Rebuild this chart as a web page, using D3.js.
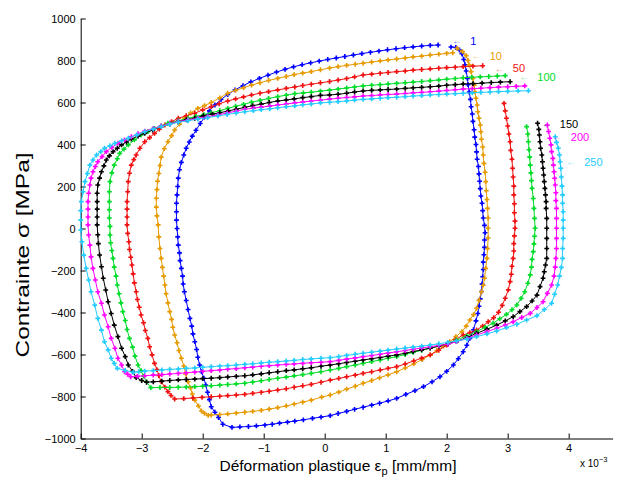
<!DOCTYPE html>
<html><head><meta charset="utf-8">
<script src="https://cdn.jsdelivr.net/npm/d3@7"></script>
<style>body{margin:0;background:#fff}svg text{font-family:"Liberation Sans",Arial,Helvetica,sans-serif}</style>
</head><body><svg id="c" width="620" height="483"></svg>
<script>
// cycle numbers (legend annotations)
const cycles = ["1","10","50","100","150","200","250"];
// plastic strain (x 1e-3) , stress (MPa)
const loop1 = [[2.07,864],[2.15,862],[2.21,850],[2.25,832],[2.28,805],[2.30,780],[2.32,750],[2.34,715],[2.35,685],[2.37,650],[2.39,615],[2.40,580],[2.42,545],[2.43,510],[2.45,470],[2.46,435],[2.48,400],[2.49,365],[2.50,330],[2.52,295],[2.53,260],[2.54,225],[2.55,190],[2.56,155],[2.58,120],[2.59,85],[2.60,50],[2.62,15],[2.63,-20],[2.62,-55],[2.62,-90],[2.61,-125],[2.60,-160],[2.60,-195],[2.59,-230],[2.58,-265],[2.57,-300],[2.55,-335],[2.53,-370],[2.51,-405],[2.48,-440],[2.44,-482],[2.38,-523],[2.33,-556],[2.27,-587],[2.19,-620],[2.11,-650],[2.00,-680],[1.89,-706],[1.76,-730],[1.62,-753],[1.48,-772],[1.33,-790],[1.18,-809],[1.04,-821],[0.90,-832],[0.77,-841],[0.63,-851],[0.49,-861],[0.36,-871],[0.22,-881],[0.09,-891],[-0.06,-898],[-0.20,-904],[-0.35,-911],[-0.49,-917],[-0.61,-922],[-0.74,-927],[-0.86,-932],[-0.98,-936],[-1.12,-940],[-1.25,-943],[-1.39,-945],[-1.52,-947],[-1.67,-932],[-1.74,-900],[-1.80,-875],[-1.86,-849],[-1.89,-815],[-1.92,-780],[-1.95,-745],[-1.98,-713],[-2.02,-682],[-2.05,-650],[-2.08,-613],[-2.10,-576],[-2.13,-539],[-2.16,-502],[-2.18,-465],[-2.21,-428],[-2.24,-386],[-2.27,-343],[-2.30,-301],[-2.32,-264],[-2.33,-227],[-2.35,-190],[-2.37,-153],[-2.38,-116],[-2.40,-79],[-2.41,-40],[-2.42,0],[-2.43,40],[-2.43,80],[-2.43,120],[-2.42,160],[-2.41,200],[-2.40,240],[-2.38,280],[-2.35,315],[-2.31,350],[-2.27,382],[-2.22,412],[-2.17,440],[-2.11,468],[-2.04,500],[-1.97,530],[-1.89,560],[-1.80,588],[-1.70,614],[-1.59,638],[-1.47,660],[-1.34,680],[-1.21,698],[-1.07,715],[-0.93,730],[-0.79,745],[-0.65,758],[-0.51,770],[-0.37,780],[-0.23,789],[-0.09,797],[0.05,805],[0.19,812],[0.33,819],[0.47,826],[0.61,833],[0.75,839],[0.89,845],[1.03,851],[1.17,856],[1.31,861],[1.45,865],[1.59,869],[1.73,872],[1.86,874]];
const loop10 = [[2.17,858],[2.26,842],[2.32,823],[2.35,800],[2.37,779],[2.40,747],[2.43,715],[2.45,683],[2.46,651],[2.48,620],[2.50,588],[2.51,556],[2.53,525],[2.55,493],[2.56,461],[2.57,425],[2.59,388],[2.60,350],[2.61,310],[2.63,268],[2.64,223],[2.65,180],[2.66,138],[2.67,96],[2.68,50],[2.68,1],[2.68,-45],[2.67,-95],[2.66,-142],[2.64,-190],[2.62,-237],[2.60,-270],[2.57,-301],[2.53,-342],[2.49,-380],[2.44,-410],[2.38,-436],[2.32,-465],[2.25,-491],[2.15,-515],[2.05,-539],[1.95,-560],[1.84,-581],[1.73,-602],[1.60,-624],[1.46,-645],[1.32,-664],[1.18,-682],[1.04,-697],[0.90,-711],[0.77,-724],[0.63,-737],[0.50,-751],[0.36,-765],[0.23,-779],[0.09,-793],[-0.05,-803],[-0.22,-817],[-0.36,-827],[-0.50,-836],[-0.63,-845],[-0.77,-853],[-0.91,-860],[-1.04,-866],[-1.18,-871],[-1.31,-875],[-1.45,-879],[-1.59,-883],[-1.72,-886],[-1.86,-888],[-1.91,-890],[-1.97,-880],[-2.02,-869],[-2.07,-845],[-2.13,-817],[-2.17,-788],[-2.20,-759],[-2.24,-730],[-2.28,-693],[-2.31,-655],[-2.35,-618],[-2.39,-581],[-2.42,-544],[-2.46,-507],[-2.49,-470],[-2.51,-433],[-2.54,-396],[-2.57,-354],[-2.60,-311],[-2.62,-269],[-2.64,-227],[-2.66,-185],[-2.68,-142],[-2.70,-95],[-2.72,-40],[-2.73,17],[-2.75,60],[-2.76,102],[-2.76,144],[-2.75,185],[-2.74,225],[-2.72,262],[-2.70,300],[-2.68,340],[-2.63,380],[-2.57,413],[-2.51,442],[-2.46,469],[-2.38,497],[-2.30,525],[-2.20,550],[-2.08,572],[-1.97,585],[-1.86,600],[-1.72,622],[-1.59,644],[-1.46,658],[-1.33,670],[-1.20,683],[-1.06,694],[-0.92,705],[-0.77,715],[-0.63,724],[-0.50,733],[-0.36,740],[-0.22,747],[-0.07,756],[0.08,764],[0.22,771],[0.36,777],[0.50,782],[0.63,787],[0.77,793],[0.91,798],[1.04,803],[1.18,807],[1.32,812],[1.45,817],[1.59,821],[1.73,826],[1.87,830],[2.00,834],[2.10,837]];
const loop50 = [[2.94,596],[2.96,560],[2.98,525],[3.00,488],[3.02,450],[3.04,413],[3.05,372],[3.07,330],[3.08,287],[3.09,245],[3.10,202],[3.10,160],[3.11,118],[3.11,75],[3.12,35],[3.12,1],[3.11,-35],[3.10,-72],[3.10,-107],[3.09,-142],[3.07,-180],[3.06,-218],[3.04,-253],[3.01,-292],[2.96,-332],[2.91,-366],[2.85,-399],[2.77,-425],[2.68,-444],[2.59,-465],[2.49,-483],[2.38,-496],[2.27,-507],[2.14,-530],[2.00,-555],[1.87,-580],[1.73,-602],[1.59,-617],[1.46,-631],[1.32,-645],[1.18,-658],[1.04,-666],[0.91,-674],[0.77,-682],[0.63,-690],[0.50,-698],[0.36,-706],[0.23,-714],[0.09,-722],[-0.06,-732],[-0.22,-742],[-0.36,-749],[-0.50,-756],[-0.63,-763],[-0.77,-769],[-0.91,-775],[-1.04,-780],[-1.18,-785],[-1.31,-790],[-1.45,-793],[-1.59,-796],[-1.72,-799],[-1.86,-801],[-2.01,-804],[-2.16,-807],[-2.31,-810],[-2.46,-812],[-2.52,-795],[-2.57,-777],[-2.62,-755],[-2.68,-730],[-2.72,-700],[-2.75,-672],[-2.79,-642],[-2.83,-602],[-2.87,-563],[-2.90,-523],[-2.94,-486],[-2.97,-449],[-3.01,-412],[-3.04,-375],[-3.07,-338],[-3.09,-301],[-3.12,-259],[-3.14,-216],[-3.16,-174],[-3.18,-137],[-3.20,-100],[-3.21,-63],[-3.23,-23],[-3.24,17],[-3.24,55],[-3.24,92],[-3.24,128],[-3.23,175],[-3.22,223],[-3.20,263],[-3.17,302],[-3.13,328],[-3.09,350],[-3.03,382],[-2.95,413],[-2.87,433],[-2.79,453],[-2.71,473],[-2.62,493],[-2.51,509],[-2.40,525],[-2.27,537],[-2.13,549],[-2.00,565],[-1.86,580],[-1.73,594],[-1.59,607],[-1.46,617],[-1.33,627],[-1.20,636],[-1.06,644],[-0.92,652],[-0.77,660],[-0.63,667],[-0.49,674],[-0.36,681],[-0.22,687],[-0.07,694],[0.08,700],[0.22,707],[0.36,714],[0.49,722],[0.63,731],[0.77,735],[0.91,739],[1.04,743],[1.18,747],[1.32,750],[1.45,754],[1.59,757],[1.73,760],[1.87,763],[2.00,766],[2.14,768],[2.27,771],[2.43,773],[2.59,775]];
const loop100 = [[3.31,485],[3.33,450],[3.34,413],[3.35,375],[3.36,340],[3.37,302],[3.38,265],[3.39,228],[3.40,191],[3.42,143],[3.43,96],[3.44,48],[3.45,1],[3.44,-37],[3.43,-73],[3.42,-110],[3.40,-147],[3.39,-184],[3.37,-221],[3.33,-261],[3.28,-301],[3.22,-333],[3.15,-364],[3.07,-387],[2.98,-409],[2.87,-430],[2.76,-451],[2.63,-471],[2.49,-491],[2.33,-511],[2.16,-531],[2.02,-550],[1.87,-560],[1.73,-570],[1.59,-580],[1.45,-590],[1.32,-600],[1.18,-610],[1.04,-618],[0.91,-626],[0.77,-634],[0.63,-642],[0.50,-650],[0.36,-658],[0.23,-666],[0.09,-674],[-0.06,-682],[-0.22,-690],[-0.36,-696],[-0.50,-702],[-0.63,-708],[-0.77,-713],[-0.91,-719],[-1.04,-725],[-1.18,-731],[-1.31,-737],[-1.45,-740],[-1.59,-743],[-1.72,-746],[-1.86,-749],[-2.00,-751],[-2.13,-753],[-2.27,-755],[-2.40,-756],[-2.54,-757],[-2.70,-757],[-2.85,-758],[-2.92,-730],[-2.97,-703],[-3.01,-677],[-3.06,-650],[-3.11,-608],[-3.15,-565],[-3.20,-523],[-3.24,-481],[-3.27,-438],[-3.31,-396],[-3.34,-354],[-3.37,-311],[-3.40,-269],[-3.42,-227],[-3.45,-184],[-3.47,-142],[-3.49,-105],[-3.51,-68],[-3.52,-31],[-3.52,10],[-3.53,50],[-3.53,89],[-3.53,128],[-3.53,175],[-3.52,223],[-3.49,265],[-3.45,302],[-3.40,332],[-3.36,358],[-3.29,378],[-3.22,398],[-3.12,422],[-3.01,445],[-2.90,461],[-2.79,477],[-2.68,489],[-2.57,501],[-2.40,513],[-2.24,525],[-2.11,534],[-1.98,542],[-1.86,551],[-1.72,561],[-1.59,572],[-1.46,582],[-1.33,591],[-1.20,601],[-1.06,610],[-0.92,619],[-0.77,628],[-0.63,635],[-0.49,642],[-0.35,646],[-0.22,649],[-0.07,654],[0.08,659],[0.22,664],[0.36,669],[0.49,674],[0.63,679],[0.77,682],[0.91,685],[1.04,688],[1.18,691],[1.32,694],[1.45,697],[1.59,700],[1.73,704],[1.87,707],[2.00,711],[2.14,714],[2.27,718],[2.41,720],[2.55,722],[2.69,724],[2.83,726],[2.96,728]];
const loop150 = [[3.49,501],[3.51,472],[3.52,445],[3.53,413],[3.54,382],[3.56,350],[3.57,318],[3.58,287],[3.59,255],[3.60,223],[3.61,191],[3.62,160],[3.63,128],[3.63,96],[3.64,48],[3.64,1],[3.64,-47],[3.64,-95],[3.64,-142],[3.62,-174],[3.60,-206],[3.58,-237],[3.53,-277],[3.48,-317],[3.40,-345],[3.31,-372],[3.20,-396],[3.09,-420],[2.96,-440],[2.82,-460],[2.66,-480],[2.49,-499],[2.33,-519],[2.16,-539],[2.02,-549],[1.87,-560],[1.73,-570],[1.59,-578],[1.45,-586],[1.32,-594],[1.18,-602],[1.04,-608],[0.91,-614],[0.77,-620],[0.63,-626],[0.50,-632],[0.36,-638],[0.23,-644],[0.09,-650],[-0.06,-656],[-0.22,-663],[-0.36,-668],[-0.50,-673],[-0.63,-677],[-0.77,-682],[-0.91,-687],[-1.04,-692],[-1.18,-697],[-1.31,-701],[-1.45,-704],[-1.59,-707],[-1.72,-710],[-1.86,-713],[-2.00,-715],[-2.13,-717],[-2.27,-719],[-2.40,-721],[-2.54,-724],[-2.67,-727],[-2.81,-730],[-2.92,-732],[-3.00,-724],[-3.09,-710],[-3.15,-680],[-3.22,-650],[-3.27,-610],[-3.33,-570],[-3.39,-515],[-3.45,-460],[-3.50,-405],[-3.55,-349],[-3.59,-293],[-3.63,-237],[-3.66,-182],[-3.69,-126],[-3.71,-72],[-3.72,-30],[-3.73,17],[-3.73,55],[-3.73,92],[-3.73,128],[-3.73,168],[-3.72,207],[-3.69,240],[-3.66,270],[-3.62,298],[-3.58,326],[-3.53,346],[-3.47,366],[-3.40,382],[-3.33,398],[-3.25,412],[-3.17,426],[-3.06,440],[-2.95,453],[-2.82,469],[-2.68,485],[-2.54,497],[-2.40,509],[-2.27,517],[-2.13,525],[-1.99,537],[-1.84,545],[-1.72,551],[-1.58,560],[-1.45,568],[-1.31,577],[-1.18,585],[-1.04,592],[-0.91,600],[-0.77,607],[-0.63,612],[-0.50,617],[-0.36,623],[-0.22,628],[-0.07,634],[0.08,636],[0.22,639],[0.36,644],[0.49,650],[0.63,655],[0.77,658],[0.91,660],[1.04,662],[1.18,664],[1.32,667],[1.45,670],[1.59,672],[1.73,675],[1.87,678],[2.00,682],[2.14,685],[2.27,688],[2.43,690],[2.58,692],[2.73,695],[2.88,697],[3.04,699]];
const loop200 = [[3.65,493],[3.67,462],[3.69,430],[3.71,398],[3.72,366],[3.74,334],[3.75,302],[3.76,270],[3.77,239],[3.78,207],[3.79,170],[3.79,133],[3.80,96],[3.80,48],[3.80,1],[3.80,-47],[3.80,-95],[3.79,-142],[3.78,-184],[3.76,-227],[3.72,-269],[3.65,-309],[3.58,-349],[3.48,-376],[3.37,-404],[3.23,-424],[3.09,-444],[2.96,-460],[2.82,-475],[2.66,-491],[2.49,-507],[2.33,-523],[2.16,-539],[2.02,-551],[1.87,-557],[1.73,-563],[1.59,-569],[1.45,-575],[1.32,-581],[1.18,-587],[1.04,-593],[0.91,-599],[0.77,-605],[0.63,-610],[0.50,-616],[0.36,-622],[0.23,-628],[0.09,-634],[-0.06,-637],[-0.22,-639],[-0.36,-642],[-0.50,-645],[-0.63,-647],[-0.77,-650],[-0.91,-653],[-1.04,-656],[-1.18,-660],[-1.31,-663],[-1.45,-667],[-1.59,-670],[-1.72,-674],[-1.86,-677],[-2.00,-680],[-2.13,-684],[-2.27,-687],[-2.40,-690],[-2.54,-693],[-2.67,-696],[-2.81,-698],[-2.95,-701],[-3.07,-704],[-3.18,-706],[-3.23,-694],[-3.28,-682],[-3.33,-650],[-3.39,-618],[-3.44,-570],[-3.50,-523],[-3.55,-468],[-3.61,-412],[-3.66,-356],[-3.72,-301],[-3.76,-245],[-3.80,-190],[-3.83,-135],[-3.85,-79],[-3.87,-31],[-3.88,17],[-3.88,55],[-3.88,92],[-3.88,128],[-3.87,168],[-3.85,207],[-3.83,240],[-3.80,270],[-3.76,295],[-3.72,318],[-3.65,342],[-3.58,366],[-3.49,386],[-3.39,406],[-3.28,422],[-3.17,437],[-3.06,451],[-2.95,464],[-2.81,476],[-2.68,488],[-2.54,499],[-2.40,509],[-2.24,517],[-2.08,525],[-1.92,533],[-1.75,541],[-1.60,550],[-1.45,559],[-1.31,568],[-1.17,573],[-1.04,578],[-0.90,583],[-0.77,588],[-0.63,593],[-0.49,598],[-0.36,602],[-0.22,607],[-0.07,611],[0.08,616],[0.22,620],[0.36,624],[0.49,627],[0.63,631],[0.77,633],[0.91,636],[1.04,638],[1.18,640],[1.32,643],[1.45,646],[1.59,648],[1.73,651],[1.87,654],[2.00,657],[2.14,661],[2.27,664],[2.42,666],[2.56,668],[2.71,671],[2.85,673],[3.00,675],[3.14,677],[3.28,679]];
const loop250 = [[3.78,437],[3.80,410],[3.83,382],[3.85,350],[3.86,318],[3.87,287],[3.88,245],[3.89,202],[3.90,160],[3.90,120],[3.91,80],[3.91,40],[3.91,1],[3.91,-47],[3.90,-95],[3.90,-142],[3.88,-185],[3.85,-227],[3.82,-269],[3.77,-313],[3.72,-356],[3.60,-386],[3.48,-415],[3.31,-436],[3.15,-456],[2.98,-472],[2.82,-488],[2.66,-502],[2.49,-515],[2.33,-526],[2.16,-536],[2.02,-542],[1.87,-549],[1.73,-555],[1.59,-560],[1.45,-565],[1.32,-569],[1.18,-574],[1.04,-579],[0.91,-584],[0.77,-589],[0.63,-594],[0.50,-599],[0.36,-604],[0.23,-610],[0.09,-615],[-0.06,-618],[-0.22,-621],[-0.36,-624],[-0.50,-628],[-0.63,-631],[-0.77,-634],[-0.91,-637],[-1.04,-640],[-1.18,-644],[-1.31,-647],[-1.45,-650],[-1.59,-653],[-1.72,-655],[-1.86,-658],[-2.00,-661],[-2.13,-664],[-2.27,-666],[-2.40,-669],[-2.54,-671],[-2.67,-674],[-2.81,-677],[-2.95,-679],[-3.05,-682],[-3.14,-685],[-3.27,-676],[-3.40,-666],[-3.45,-642],[-3.50,-618],[-3.55,-578],[-3.61,-539],[-3.66,-484],[-3.72,-428],[-3.77,-365],[-3.83,-301],[-3.87,-245],[-3.91,-190],[-3.95,-127],[-3.98,-63],[-4.00,-7],[-4.00,40],[-4.00,85],[-3.99,128],[-3.96,175],[-3.93,223],[-3.89,262],[-3.85,302],[-3.80,326],[-3.74,350],[-3.67,366],[-3.61,382],[-3.52,394],[-3.44,406],[-3.33,418],[-3.22,430],[-3.08,446],[-2.95,461],[-2.81,473],[-2.68,485],[-2.54,496],[-2.40,506],[-2.24,513],[-2.08,521],[-1.92,528],[-1.75,536],[-1.60,543],[-1.45,550],[-1.31,556],[-1.17,561],[-1.04,566],[-0.90,570],[-0.77,575],[-0.63,580],[-0.49,584],[-0.36,589],[-0.22,593],[-0.07,598],[0.08,601],[0.22,604],[0.36,607],[0.49,611],[0.63,615],[0.77,617],[0.91,620],[1.04,623],[1.18,625],[1.32,628],[1.45,631],[1.59,633],[1.73,636],[1.87,638],[2.00,640],[2.14,642],[2.27,644],[2.42,646],[2.56,648],[2.71,650],[2.85,652],[3.00,653],[3.17,655],[3.34,656]];
// annotation anchors (data units)
const annotX = [2.09,2.41,2.79,3.19,3.56,3.74,3.96];
const annotY = [893,823,763,723,498,437,318];
const xTicks = [-4,-3,-2,-1,0,1,2,3,4];
const yTicks = [-1000,-800,-600,-400,-200,0,200,400,600,800,1000];

const loops = [loop1,loop10,loop50,loop100,loop150,loop200,loop250];
const colors = ["#0000FF","#E69A00","#F01010","#00DC28","#000000","#FF00FF","#22CCFF"];

const svg = d3.select("#c");
const x = d3.scaleLinear().domain([-4,4.72]).range([80.7,612.6]);
const y = d3.scaleLinear().domain([-1000,1000]).range([438.5,18.5]);
const fmt = d => d < 0 ? "\u2212" + Math.abs(d) : String(d);

const gx = svg.append("g").attr("transform","translate(0,438.5)")
  .call(d3.axisBottom(x).tickValues(xTicks).tickFormat(fmt).tickSizeInner(-5).tickSizeOuter(0).tickPadding(6));
const gy = svg.append("g").attr("transform","translate(80.7,0)")
  .call(d3.axisLeft(y).tickValues(yTicks).tickFormat(fmt).tickSizeInner(-5).tickSizeOuter(0).tickPadding(5));
[gx,gy].forEach(g=>{
  g.selectAll("text").attr("font-size",11).attr("fill","#000").attr("font-family","Liberation Sans, Arial, sans-serif");
  g.selectAll("line,path").attr("stroke","#000").attr("stroke-width",1);
});

const plot = svg.append("g");
const line = d3.line().x(d=>x(d[0])).y(d=>y(d[1]));
const sym = d3.symbol(d3.symbolCross,13)();
loops.forEach((L,i)=>{
  plot.append("path").attr("d",line(L)).attr("fill","none").attr("stroke",colors[i]).attr("stroke-width",1);
  plot.append("g").selectAll("path").data(L).enter().append("path")
    .attr("d",sym).attr("fill",colors[i])
    .attr("transform",d=>`translate(${x(d[0])},${y(d[1])})`);
});

const ann = svg.append("g");
cycles.forEach((c,i)=>{
  const px = x(annotX[i]), py = y(annotY[i]);
  ann.append("text").attr("x",px).attr("y",py).attr("dy","0.33em")
    .attr("font-size",10).attr("fill",colors[i]).attr("opacity",0.55)
    .attr("font-family","DejaVu Sans, sans-serif").text("\u2190");
  ann.append("text").attr("x",px+18).attr("y",py).attr("dy","0.35em")
    .attr("font-size",11).attr("fill",colors[i]).text(c);
});

svg.append("text").attr("x",338).attr("y",471).attr("text-anchor","middle").attr("font-size",15.5)
  .html('Déformation plastique ε<tspan dy="4" font-size="11">p</tspan><tspan dy="-4"> [mm/mm]</tspan>');
svg.append("text").attr("transform","translate(29,255) rotate(-90)").attr("text-anchor","middle").attr("font-size",17.5)
  .attr("textLength",205).attr("lengthAdjust","spacingAndGlyphs")
  .text("Contrainte σ [MPa]");
svg.append("text").attr("x",580).attr("y",467).attr("font-size",10)
  .html('x 10<tspan dy="-5" font-size="7.5">\u22123</tspan>');
</script></body></html>
